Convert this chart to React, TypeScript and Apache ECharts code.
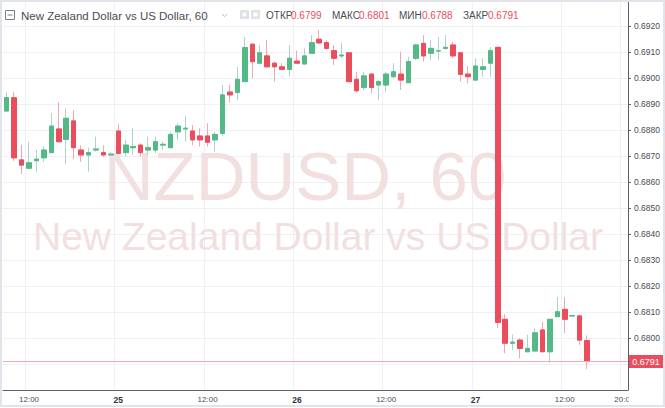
import { useEffect, useRef } from 'react'
import * as echarts from 'echarts'

// hourly candles, [open, close, low, high]
const candles: number[][] = [
  [0.68873, 0.68925, 0.68869, 0.68946],
  [0.68924, 0.68693, 0.68681, 0.68947],
  [0.68685, 0.68665, 0.68631, 0.68742],
  [0.68653, 0.68674, 0.6865, 0.68755],
  [0.68682, 0.68688, 0.68638, 0.68723],
  [0.68693, 0.68723, 0.68678, 0.68736],
  [0.68713, 0.68815, 0.68712, 0.68865],
  [0.68804, 0.68755, 0.68752, 0.68907],
  [0.68764, 0.68845, 0.68669, 0.68883],
  [0.68835, 0.68732, 0.68688, 0.68877],
  [0.68723, 0.68704, 0.68678, 0.68742],
  [0.68704, 0.68713, 0.6864, 0.68732],
  [0.68723, 0.68727, 0.68717, 0.68774],
  [0.68713, 0.68704, 0.68697, 0.68742],
  [0.68704, 0.68707, 0.687, 0.68715],
  [0.68796, 0.6871, 0.68708, 0.68822],
  [0.68713, 0.68742, 0.68697, 0.68762],
  [0.68732, 0.68736, 0.68704, 0.68807],
  [0.68742, 0.68713, 0.68697, 0.68749],
  [0.68723, 0.68732, 0.68704, 0.68774],
  [0.68723, 0.68755, 0.6871, 0.68774],
  [0.68742, 0.68745, 0.68723, 0.68755],
  [0.68732, 0.68783, 0.68731, 0.68793],
  [0.68793, 0.68815, 0.68762, 0.68826],
  [0.68804, 0.68807, 0.68755, 0.68855],
  [0.68796, 0.68762, 0.68742, 0.68819],
  [0.68777, 0.68762, 0.68736, 0.68807],
  [0.68777, 0.68753, 0.68736, 0.68826],
  [0.68762, 0.68783, 0.68717, 0.68793],
  [0.68787, 0.68935, 0.68777, 0.68973],
  [0.68946, 0.68935, 0.68905, 0.68973],
  [0.68944, 0.68995, 0.68915, 0.69043],
  [0.68986, 0.69117, 0.68985, 0.69157],
  [0.6913, 0.69063, 0.68999, 0.69133],
  [0.69057, 0.69097, 0.69054, 0.69127],
  [0.69085, 0.69043, 0.69041, 0.69146],
  [0.69057, 0.69043, 0.68986, 0.69063],
  [0.69043, 0.69033, 0.69031, 0.69057],
  [0.69033, 0.69076, 0.69005, 0.69127],
  [0.69065, 0.69057, 0.69054, 0.69105],
  [0.69054, 0.69085, 0.6905, 0.69114],
  [0.69095, 0.69136, 0.69092, 0.69165],
  [0.69149, 0.69135, 0.69133, 0.69185],
  [0.69136, 0.69114, 0.69108, 0.69146],
  [0.69105, 0.69076, 0.6905, 0.69127],
  [0.69085, 0.69088, 0.69076, 0.69136],
  [0.69097, 0.68986, 0.68985, 0.691],
  [0.68995, 0.68951, 0.68944, 0.69024],
  [0.68964, 0.69008, 0.68954, 0.69024],
  [0.69015, 0.68964, 0.68941, 0.69018],
  [0.68973, 0.68986, 0.68915, 0.68992],
  [0.68973, 0.69015, 0.68947, 0.69024],
  [0.69005, 0.69024, 0.68999, 0.69057],
  [0.69015, 0.68992, 0.68954, 0.69101],
  [0.68982, 0.69063, 0.68981, 0.69082],
  [0.69076, 0.69127, 0.69069, 0.69133],
  [0.69133, 0.69085, 0.69063, 0.69165],
  [0.69095, 0.69114, 0.69069, 0.69146],
  [0.69104, 0.69105, 0.69069, 0.69157],
  [0.69114, 0.69118, 0.69108, 0.69165],
  [0.69127, 0.69085, 0.69076, 0.6914],
  [0.69097, 0.69014, 0.68986, 0.69097],
  [0.69015, 0.69005, 0.6898, 0.69046],
  [0.68992, 0.69046, 0.6899, 0.69076],
  [0.69033, 0.69043, 0.69005, 0.69076],
  [0.69057, 0.69105, 0.69005, 0.69118],
  [0.69118, 0.6806, 0.68039, 0.69119],
  [0.68072, 0.6798, 0.67941, 0.68092],
  [0.6798, 0.67984, 0.67954, 0.68014],
  [0.67992, 0.6796, 0.67922, 0.67999],
  [0.67947, 0.6796, 0.67946, 0.68012],
  [0.6795, 0.6802, 0.67947, 0.68037],
  [0.68031, 0.67947, 0.67946, 0.68063],
  [0.67947, 0.68072, 0.67905, 0.68073],
  [0.68082, 0.68101, 0.68081, 0.68157],
  [0.6811, 0.68072, 0.68018, 0.68157],
  [0.68085, 0.68086, 0.68083, 0.68087],
  [0.68085, 0.67992, 0.67973, 0.68089],
  [0.6799, 0.6791, 0.6788, 0.6801]
]

const slotCount = 84
const tickIndex = [3, 15, 27, 39, 51, 63, 75, 83]
const tickLabels = ['12:00', '25', '12:00', '26', '12:00', '27', '12:00', '20:00']
const dayLabels = ['25', '26', '27']

const lastPrice = 0.6791
const ohlcNames = ['ОТКР', 'МАКС', 'МИН', 'ЗАКР']
const ohlcValues = ['0.6799', '0.6801', '0.6788', '0.6791']
const ohlcX = [266, 332, 399, 463]
const ohlcValueX = [291, 359, 422, 488]

const UP = '#53b987'
const DOWN = '#eb4d5c'
const UP_WICK = '#a9d6c6'
const DOWN_WICK = '#f3a8b0'
const FONT = '"Liberation Sans", Arial, sans-serif'

const GRID_LEFT = 3
const GRID_RIGHT = 37
const WIDTH = 665

export default function App() {
  const chartRef = useRef<HTMLDivElement>(null)

  useEffect(() => {
    if (!chartRef.current) return
    const chart = echarts.init(chartRef.current, null, { renderer: 'svg' })

    const categories = Array.from({ length: slotCount }, (_, i) => String(i))
    const bodies = candles.map(([o, c]) => [o, c, Math.min(o, c), Math.max(o, c)])
    const isTick = (i: number) => tickIndex.includes(i)

    const header: any[] = [
      {
        type: 'rect',
        shape: { x: 5.5, y: 10.5, width: 9, height: 9 },
        style: { fill: 'none', stroke: '#7a7d85', lineWidth: 1 }
      },
      {
        type: 'line',
        shape: { x1: 7.5, y1: 15, x2: 12.5, y2: 15 },
        style: { stroke: '#7a7d85', lineWidth: 1 }
      },
      {
        type: 'text',
        style: {
          x: 21, y: 15.5, text: 'New Zealand Dollar vs US Dollar, 60',
          font: `11.5px ${FONT}`, fill: '#4a4c52', textVerticalAlign: 'middle'
        }
      },
      {
        type: 'polyline',
        shape: { points: [[222, 14], [224.5, 16.5], [227, 14]] },
        style: { stroke: '#b5b8bf', lineWidth: 1, fill: 'none' }
      },
      {
        type: 'rect',
        shape: { x: 240, y: 10, width: 9, height: 9 },
        style: { fill: '#dfe2e8' }
      },
      {
        type: 'circle',
        shape: { cx: 244.5, cy: 14.5, r: 2 },
        style: { fill: '#fff' }
      },
      {
        type: 'rect',
        shape: { x: 251, y: 10, width: 9, height: 9 },
        style: { fill: '#dfe2e8' }
      },
      {
        type: 'rect',
        shape: { x: 253.5, y: 12.5, width: 4, height: 4 },
        style: { fill: '#fff' }
      }
    ]
    ohlcNames.forEach((name, i) => {
      header.push({
        type: 'text',
        style: {
          x: ohlcX[i], y: 15.5, text: name, font: `10px ${FONT}`,
          fill: '#4a4c52', textVerticalAlign: 'middle'
        }
      })
      header.push({
        type: 'text',
        style: {
          x: ohlcValueX[i], y: 15.5, text: ohlcValues[i], font: `10px ${FONT}`,
          fill: DOWN, textVerticalAlign: 'middle'
        }
      })
    })

    const option = {
      animation: false,
      backgroundColor: '#ffffff',
      grid: { left: GRID_LEFT, right: GRID_RIGHT, top: 0, bottom: 18 },
      xAxis: {
        type: 'category',
        data: categories,
        boundaryGap: true,
        axisLine: { lineStyle: { color: '#5d606b', width: 1 } },
        axisTick: {
          alignWithLabel: true,
          interval: (i: number) => isTick(i),
          length: 3,
          lineStyle: { color: '#5d606b' }
        },
        axisLabel: {
          interval: (i: number) => isTick(i),
          margin: 5,
          fontSize: 8,
          fontFamily: FONT,
          color: '#4a4c52',
          formatter: (_v: string, i: number) => {
            const label = tickLabels[tickIndex.indexOf(i)] ?? ''
            return dayLabels.includes(label) ? `{b|${label}}` : label
          },
          rich: {
            b: { fontWeight: 'bold', fontSize: 8.5, fontFamily: FONT, color: '#2f3136' }
          }
        },
        splitLine: {
          show: true,
          interval: (i: number) => isTick(i),
          lineStyle: { color: '#eef0f4', width: 1 }
        }
      },
      yAxis: {
        type: 'value',
        position: 'right',
        min: 0.678,
        max: 0.693,
        interval: 0.001,
        axisLine: { show: true, lineStyle: { color: '#5d606b', width: 1 } },
        axisTick: { show: true, length: 3, lineStyle: { color: '#5d606b' } },
        axisLabel: {
          showMinLabel: false,
          showMaxLabel: false,
          margin: 6,
          fontSize: 8.5,
          fontFamily: FONT,
          color: '#4a4c52',
          // the price tag hides the label it sits on
          formatter: (v: number) => (Math.abs(v - lastPrice) < 0.0004 ? '' : v.toFixed(4))
        },
        splitLine: { lineStyle: { color: '#eef0f4', width: 1 } }
      },
      graphic: [
        {
          type: 'text',
          z: 1,
          silent: true,
          style: {
            x: 305, y: 176, text: 'NZDUSD, 60', font: `69px ${FONT}`,
            fill: '#f2dfdf', textAlign: 'center', textVerticalAlign: 'middle'
          }
        },
        {
          type: 'text',
          z: 1,
          silent: true,
          style: {
            x: 318, y: 236, text: 'New Zealand Dollar vs US Dollar', font: `39px ${FONT}`,
            fill: '#f2dfdf', textAlign: 'center', textVerticalAlign: 'middle'
          }
        },
        ...header.map((h) => ({ ...h, z: 100, silent: true })),
        {
          type: 'rect',
          z: 100,
          silent: true,
          shape: { x: 628.5, y: 391, width: 32, height: 13 },
          style: { fill: '#ffffff' }
        },
        {
          type: 'rect',
          z: 100,
          silent: true,
          shape: { x: 1, y: 1, width: 663, height: 405 },
          style: { fill: 'none', stroke: '#e1e4ea', lineWidth: 2 }
        }
      ],
      series: [
        {
          name: 'wicks',
          type: 'candlestick',
          data: candles,
          barWidth: 5,
          itemStyle: {
            color: UP_WICK,
            color0: DOWN_WICK,
            borderColor: UP_WICK,
            borderColor0: DOWN_WICK,
            borderWidth: 1
          }
        },
        {
          name: 'bodies',
          type: 'candlestick',
          data: bodies,
          barWidth: 5,
          itemStyle: {
            color: UP,
            color0: DOWN,
            borderColor: UP,
            borderColor0: DOWN,
            borderWidth: 1
          }
        }
      ]
    }

    chart.setOption(option as any)

    // last price line and tag, placed through the y axis scale
    const py = chart.convertToPixel({ yAxisIndex: 0 }, lastPrice) as number
    const axisX = WIDTH - GRID_RIGHT
    chart.setOption({
      graphic: [
        {
          id: 'priceLine',
          type: 'line',
          z: 50,
          silent: true,
          shape: { x1: GRID_LEFT, y1: Math.round(py) + 0.5, x2: axisX, y2: Math.round(py) + 0.5 },
          style: { stroke: '#f5aab2', lineWidth: 1 }
        },
        {
          id: 'priceTag',
          type: 'rect',
          z: 101,
          silent: true,
          shape: { x: axisX + 1, y: py - 6.5, width: 34, height: 13 },
          style: { fill: DOWN }
        },
        {
          id: 'priceText',
          type: 'text',
          z: 102,
          silent: true,
          style: {
            x: axisX + 18, y: py + 0.5, text: lastPrice.toFixed(4),
            font: `9px ${FONT}`, fill: '#ffffff',
            textAlign: 'center', textVerticalAlign: 'middle'
          }
        }
      ]
    } as any)

    return () => {
      chart.dispose()
    }
  }, [])

  return (
    <div
      ref={chartRef}
      style={{ position: 'absolute', left: 0, top: 0, width: 665, height: 408 }}
    />
  )
}
